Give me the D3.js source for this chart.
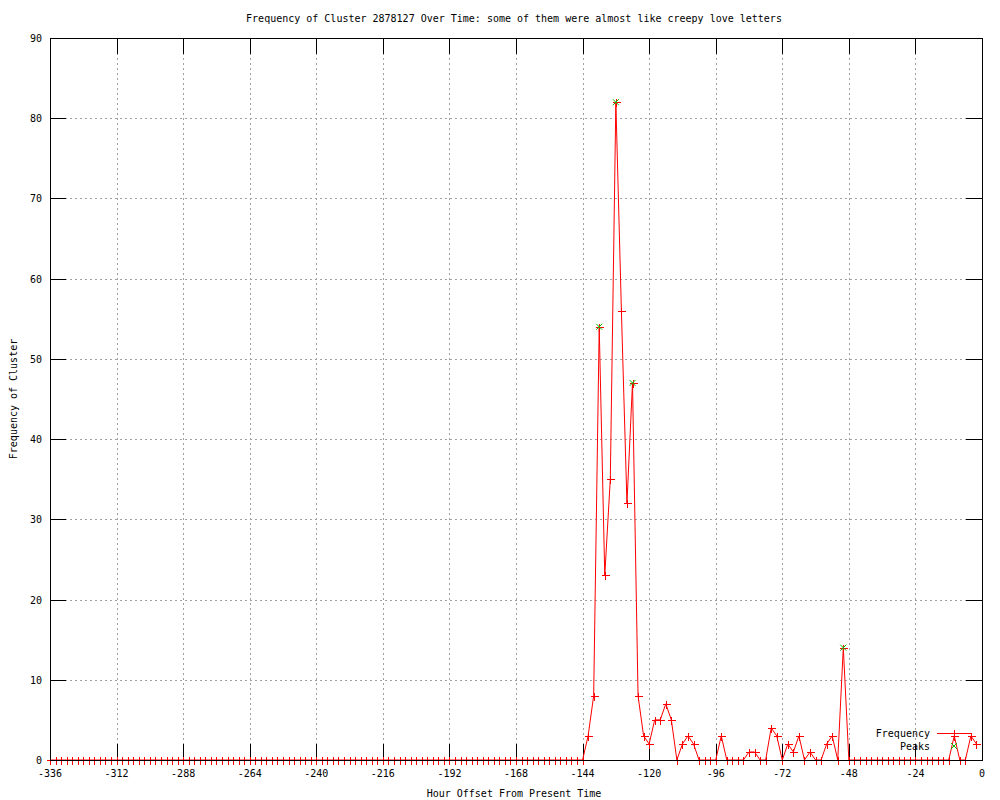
<!DOCTYPE html>
<html lang="en">
<head>
    <meta charset="UTF-8">
    <title>Frequency of Cluster 2878127 Over Time</title>
    <script src="https://d3js.org/d3.v7.min.js"></script>
    <style type="text/css">
        body { margin: 0; background: white; }
        text { font-family: "DejaVu Sans Mono", monospace; font-size: 10px; fill: black; }
    </style>
</head>
<body>
<script type="text/javascript">

    // hours before now, one sample every 2 hours
    const hours = d3.range(-336, 0, 2);
    // non-zero counts, everything else is 0
    const counts = {
        "-142": 3, "-140": 8, "-138": 54, "-136": 23, "-134": 35, "-132": 82,
        "-130": 56, "-128": 32, "-126": 47, "-124": 8, "-122": 3, "-120": 2,
        "-118": 5, "-116": 5, "-114": 7, "-112": 5, "-108": 2, "-106": 3,
        "-104": 2, "-94": 3, "-84": 1, "-82": 1, "-76": 4, "-74": 3,
        "-70": 2, "-68": 1, "-66": 3, "-62": 1, "-56": 2, "-54": 3,
        "-50": 14, "-10": 3, "-4": 3, "-2": 2
    };
    const peakHours = [-138, -132, -126, -50];
    const xTicks = d3.range(-336, 1, 24);
    const yTicks = d3.range(0, 91, 10);

    const data = hours.map(h => ({ h: h, v: counts[h] || 0 }));
    const peaks = peakHours.map(h => ({ h: h, v: counts[h] }));

    const width = 1000, height = 800;
    const plotL = 50, plotR = 982, plotT = 38, plotB = 760;

    const svg = d3.select("body").append("svg")
        .attr("width", width)
        .attr("height", height);

    const x = d3.scaleLinear().domain([-336, 0]).range([plotL, plotR]);
    const y = d3.scaleLinear().domain([0, 90]).range([plotB, plotT]);
    const px = v => Math.round(v) + 0.5;

    // dotted grid
    const grid = svg.append("g")
        .attr("stroke", "#a0a0a0")
        .attr("stroke-dasharray", "2,3")
        .attr("shape-rendering", "crispEdges");
    grid.selectAll(".gx").data(xTicks.slice(1, -1)).enter().append("line")
        .attr("x1", d => px(x(d))).attr("x2", d => px(x(d)))
        .attr("y1", plotT).attr("y2", plotB);
    grid.selectAll(".gy").data(yTicks.slice(1, -1)).enter().append("line")
        .attr("y1", d => px(y(d))).attr("y2", d => px(y(d)))
        .attr("x1", plotL).attr("x2", plotR);

    // tick marks on all four sides
    const tickLen = 16;
    const ticks = svg.append("g").attr("stroke", "black").attr("shape-rendering", "crispEdges");
    xTicks.forEach(d => {
        ticks.append("line").attr("x1", px(x(d))).attr("x2", px(x(d))).attr("y1", plotB).attr("y2", plotB - tickLen);
        ticks.append("line").attr("x1", px(x(d))).attr("x2", px(x(d))).attr("y1", plotT).attr("y2", plotT + tickLen);
    });
    yTicks.forEach(d => {
        ticks.append("line").attr("y1", px(y(d))).attr("y2", px(y(d))).attr("x1", plotL).attr("x2", plotL + tickLen);
        ticks.append("line").attr("y1", px(y(d))).attr("y2", px(y(d))).attr("x1", plotR).attr("x2", plotR - tickLen);
    });

    // tick labels
    svg.append("g").selectAll("text").data(xTicks).enter().append("text")
        .attr("x", d => x(d)).attr("y", plotB + 17)
        .attr("text-anchor", "middle")
        .text(d => d);
    svg.append("g").selectAll("text").data(yTicks).enter().append("text")
        .attr("x", plotL - 8).attr("y", d => y(d) + 4)
        .attr("text-anchor", "end")
        .text(d => d);

    // frequency line with + markers
    const line = d3.line().x(d => x(d.h)).y(d => y(d.v));
    svg.append("path").datum(data)
        .attr("d", line)
        .attr("fill", "none")
        .attr("stroke", "red")
        .attr("stroke-width", 1);

    function plus(g, cx, cy) {
        g.append("path")
            .attr("d", `M${Math.round(cx) - 3.5},${px(cy)}h8M${px(cx)},${Math.round(cy) - 3.5}v8`)
            .attr("stroke", "red").attr("fill", "none").attr("shape-rendering", "crispEdges");
    }
    function cross(g, cx, cy) {
        const s = 3;
        g.append("path")
            .attr("d", `M${cx - s},${cy - s}L${cx + s},${cy + s}M${cx - s},${cy + s}L${cx + s},${cy - s}`)
            .attr("stroke", "#00c000").attr("fill", "none");
    }

    const marks = svg.append("g");
    data.forEach(d => plus(marks, x(d.h), y(d.v)));
    peaks.forEach(d => cross(marks, x(d.h), y(d.v)));

    // border on top
    svg.append("rect")
        .attr("x", plotL + 0.5).attr("y", plotT + 0.5)
        .attr("width", plotR - plotL).attr("height", plotB - plotT)
        .attr("fill", "none").attr("stroke", "black")
        .attr("shape-rendering", "crispEdges");

    // legend
    svg.append("text").attr("x", 930).attr("y", 737).attr("text-anchor", "end").text("Frequency");
    svg.append("text").attr("x", 930).attr("y", 750).attr("text-anchor", "end").text("Peaks");
    svg.append("line").attr("x1", 937).attr("x2", 971).attr("y1", 733.5).attr("y2", 733.5)
        .attr("stroke", "red").attr("shape-rendering", "crispEdges");
    plus(svg, 954, 733);
    cross(svg, 954, 746);

    // titles
    svg.append("text").attr("x", 514).attr("y", 22).attr("text-anchor", "middle")
        .text("Frequency of Cluster 2878127 Over Time: some of them were almost like creepy love letters");
    svg.append("text").attr("x", 514).attr("y", 797).attr("text-anchor", "middle")
        .text("Hour Offset From Present Time");
    svg.append("text")
        .attr("transform", "translate(17,399) rotate(-90)")
        .attr("text-anchor", "middle")
        .text("Frequency of Cluster");

</script>
</body>
</html>
